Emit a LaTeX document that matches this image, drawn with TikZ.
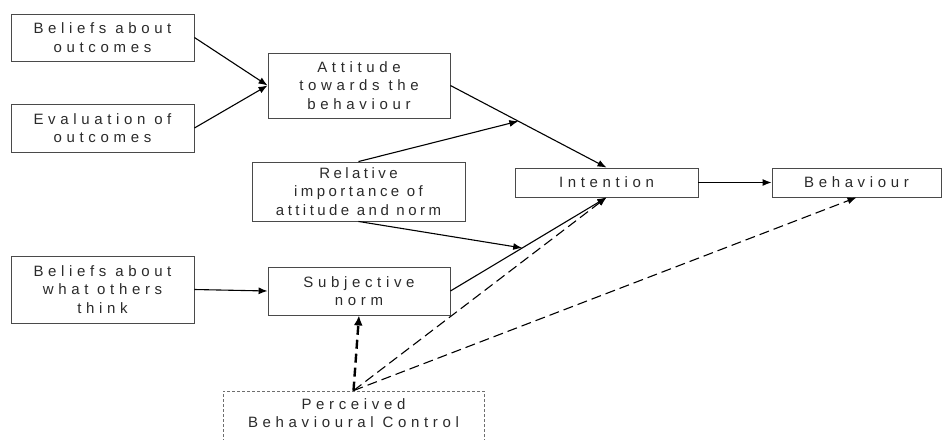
\documentclass[tikz,border=0pt]{standalone}
\usepackage{fontspec}
\usetikzlibrary{arrows.meta,calc}
\newfontfamily\boxfont[LetterSpace=31]{Liberation Sans}
\newfontfamily\tightfont[LetterSpace=23]{Liberation Sans}
\definecolor{txt}{HTML}{2A2A2A}
\definecolor{frame}{HTML}{4A4A4A}
\begin{document}
\begin{tikzpicture}[x=1pt,y=-1pt,
  box/.style={draw=frame,line width=0.9pt,rectangle,inner sep=0pt,align=center,
    text=txt,font=\boxfont\fontsize{15}{18.5}\selectfont},
  plain/.style={inner sep=0pt,align=center,text=txt,font=\boxfont\fontsize{15}{18.5}\selectfont},
  link/.style={draw=black,line width=1.1pt,-{Latex[length=9pt,width=7pt]}},
  dlink/.style={link,dash pattern=on 10pt off 5pt},
  tlink/.style={draw=black,line width=2.4pt,dash pattern=on 9pt off 5pt,-{Latex[length=10pt,width=9pt]}}]
\useasboundingbox (0,0) rectangle (942,439);

% boxes
\node[box,minimum width=183pt,minimum height=47pt] (bo) at (102.5,37.5) {Beliefs about\\outcomes};
\node[box,minimum width=183pt,minimum height=48pt] (eo) at (102.5,128) {Evaluation of\\outcomes};
\node[box,minimum width=182pt,minimum height=65pt] (att) at (359,85.5) {Attitude\\towards the\\behaviour};
\node[box,font=\tightfont\fontsize{15}{18.5}\selectfont,minimum width=213pt,minimum height=59pt] (rel) at (358.5,191.5) {Relative\\importance of\\attitude and norm};
\node[box,minimum width=183pt,minimum height=67pt] (bw) at (102.5,289.5) {Beliefs about\\what others\\think};
\node[box,minimum width=182pt,minimum height=48pt] (sn) at (359,291) {Subjective\\norm};
\node[box,minimum width=183pt,minimum height=29pt] (int) at (606.5,182.5) {Intention};
\node[box,minimum width=169pt,minimum height=29pt] (beh) at (856.5,182.5) {Behaviour};
\node[box,draw=frame!80,line width=0.8pt,dash pattern=on 3pt off 2pt,
  minimum width=261pt,minimum height=80pt] (pbc) at (353.5,431) {};
\node[plain] (pbct) at (353.5,413) {Perceived\\Behavioural Control};

% points where the weighting arrows meet the attitude and norm paths
\coordinate (m1) at ($(att.east)!0.435!(int.north)$);
\coordinate (m2) at ($(sn.east)!0.46!(int.south)$);

% connectors
\draw[link] (bo.east) -- (att.west);
\draw[link] (eo.east) -- (att.west);
\draw[link] (att.east) -- (int.north);
\draw[link] (rel.north) -- (m1);
\draw[link] (rel.south) -- (m2);
\draw[link] (sn.east) -- (int.south);
\draw[link] (bw.east) -- (sn.west);
\draw[link] (int.east) -- (beh.west);
\draw[dlink] (pbc.north) -- (int.south);
\draw[dlink] (pbc.north) -- (beh.south);
\draw[tlink] (pbc.north) -- (sn.south);
\end{tikzpicture}
\end{document}
